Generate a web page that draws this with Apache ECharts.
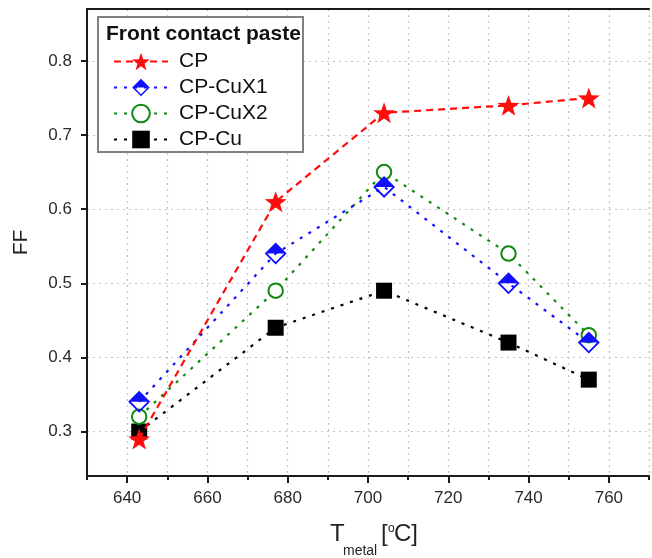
<!DOCTYPE html>
<html>
<head>
<meta charset="utf-8">
<script src="https://cdn.jsdelivr.net/npm/echarts@6/dist/echarts.min.js"></script>
<style>
  html, body { margin: 0; padding: 0; background: #fff; }
  #chart { width: 652px; height: 558px; }
</style>
</head>
<body>
<div id="chart"></div>
<script>
// ---- data ----
const xValues = [643, 677, 704, 735, 755];
const seriesNames = ['CP', 'CP-CuX1', 'CP-CuX2', 'CP-Cu'];
const cpValues = [0.29, 0.61, 0.73, 0.74, 0.75];
const cuX1Values = [0.34, 0.54, 0.63, 0.50, 0.42];
const cuX2Values = [0.32, 0.49, 0.65, 0.54, 0.43];
const cuValues = [0.30, 0.44, 0.49, 0.42, 0.37];
const xTickLabels = [640, 660, 680, 700, 720, 740, 760];
const yTickLabels = [0.3, 0.4, 0.5, 0.6, 0.7, 0.8];
const legendTitle = 'Front contact paste';
const yAxisTitle = 'FF';

// ---- styling ----
const FONT = 'Arial, "Liberation Sans", Helvetica, sans-serif';
const starPath = 'path://M10,0 L12.351,6.764 L19.511,6.910 L13.804,11.236 L15.878,18.090 L10,14 L4.122,18.090 L6.196,11.236 L0.489,6.910 L7.649,6.764 Z';
const halfDiamondPath = 'path://M0,10 L10,0 L20,10 Z M0,10 L10,20 L20,10 L17.6,10 L10,17.6 L2.4,10 Z';

function pairs(vals) { return xValues.map((x, i) => [x, vals[i]]); }

const chart = echarts.init(document.getElementById('chart'), null, { renderer: 'canvas' });

const option = {
  backgroundColor: '#ffffff',
  animation: false,
  textStyle: { fontFamily: FONT },
  grid: { left: 87, top: 9, right: -9, bottom: 82, containLabel: false },
  xAxis: [
    {
      type: 'value', position: 'bottom', min: 630, max: 770, interval: 10,
      axisLine: { show: true, lineStyle: { color: '#1a1a1a', width: 2 } },
      axisTick: { show: true, inside: false, length: 4, lineStyle: { color: '#1a1a1a', width: 2 } },
      axisLabel: {
        show: true, margin: 14, fontSize: 17, color: '#2a2a2a', fontFamily: FONT,
        formatter: function (v) { return xTickLabels.indexOf(v) >= 0 ? String(v) : ''; }
      },
      splitLine: { show: true, lineStyle: { color: '#c4c4c4', width: 1.2, type: [2, 4] } }
    },
    {
      type: 'value', position: 'bottom', min: 630, max: 770,
      axisLine: { show: false },
      axisTick: { show: true, inside: false, length: 7, customValues: xTickLabels, lineStyle: { color: '#1a1a1a', width: 2 } },
      axisLabel: { show: false },
      splitLine: { show: false }
    },
    {
      type: 'value', position: 'top', min: 630, max: 770,
      axisLine: { show: true, lineStyle: { color: '#1a1a1a', width: 2 } },
      axisTick: { show: false }, axisLabel: { show: false }, splitLine: { show: false }
    }
  ],
  yAxis: [
    {
      type: 'value', position: 'left', min: 0.24, max: 0.87,
      name: yAxisTitle, nameLocation: 'middle', nameGap: 55, nameRotate: 90,
      nameTextStyle: { fontSize: 21, color: '#222', fontFamily: FONT },
      axisLine: { show: true, lineStyle: { color: '#1a1a1a', width: 2 } },
      axisTick: { show: true, inside: false, length: 6, customValues: yTickLabels, lineStyle: { color: '#1a1a1a', width: 2 } },
      axisLabel: {
        show: true, margin: 15, fontSize: 17, color: '#2a2a2a', fontFamily: FONT,
        customValues: yTickLabels,
        formatter: function (v) { return Number(v).toFixed(1); }
      },
      splitLine: { show: true, lineStyle: { color: '#c4c4c4', width: 1.2, type: [2, 4] } }
    }
  ],
  legend: {
    data: seriesNames,
    orient: 'vertical',
    left: 108, top: 46,
    itemWidth: 54, itemHeight: 22, itemGap: 5,
    textStyle: { fontSize: 21, color: '#111', fontFamily: FONT, padding: [0, 0, 0, 6] },
    z: 6
  },
  graphic: [
    {
      type: 'rect', z: 4, silent: true,
      shape: { x: 98, y: 17, width: 205, height: 135 },
      style: { fill: '#ffffff', stroke: '#808080', lineWidth: 2 }
    },
    {
      type: 'text', z: 6, silent: true, left: 106, top: 24,
      style: { text: legendTitle, font: 'bold 21px ' + FONT, fill: '#111' }
    },
    { type: 'text', z: 6, silent: true, x: 330, y: 534,
      style: { text: 'T', font: '24px ' + FONT, fill: '#222', verticalAlign: 'middle' } },
    { type: 'text', z: 6, silent: true, x: 343, y: 551,
      style: { text: 'metal', font: '14px ' + FONT, fill: '#222', verticalAlign: 'middle' } },
    { type: 'text', z: 6, silent: true, x: 381, y: 534,
      style: { text: '[', font: '24px ' + FONT, fill: '#222', verticalAlign: 'middle' } },
    { type: 'text', z: 6, silent: true, x: 388, y: 529,
      style: { text: 'o', font: '12px ' + FONT, fill: '#222', verticalAlign: 'middle' } },
    { type: 'text', z: 6, silent: true, x: 394, y: 534,
      style: { text: 'C]', font: '24px ' + FONT, fill: '#222', verticalAlign: 'middle' } }
  ],
  series: [
    {
      name: 'CP-Cu', type: 'line', xAxisIndex: 0, yAxisIndex: 0, data: pairs(cuValues),
      symbol: 'rect', symbolSize: 16,
      itemStyle: { color: '#000000' },
      lineStyle: { color: '#000000', width: 2.2, type: [3, 7] }, z: 2
    },
    {
      name: 'CP-CuX2', type: 'line', xAxisIndex: 0, yAxisIndex: 0, data: pairs(cuX2Values),
      symbol: 'emptyCircle', symbolSize: 14.5,
      itemStyle: { color: '#118a11', borderColor: '#118a11', borderWidth: 3.2 },
      lineStyle: { color: '#118a11', width: 2.2, type: [3, 7] }, z: 3
    },
    {
      name: 'CP-CuX1', type: 'line', xAxisIndex: 0, yAxisIndex: 0, data: pairs(cuX1Values),
      symbol: halfDiamondPath, symbolSize: 22,
      itemStyle: { color: '#1010ff', borderWidth: 0 },
      lineStyle: { color: '#1010ff', width: 2.2, type: [3, 7] }, z: 3
    },
    {
      name: 'CP', type: 'line', xAxisIndex: 0, yAxisIndex: 0, data: pairs(cpValues),
      symbol: starPath, symbolSize: 22, symbolKeepAspect: true,
      itemStyle: { color: '#ff0d0d', borderWidth: 0 },
      lineStyle: { color: '#ff0d0d', width: 2.2, type: [7, 5] }, z: 3
    }
  ]
};

chart.setOption(option);
</script>
</body>
</html>
